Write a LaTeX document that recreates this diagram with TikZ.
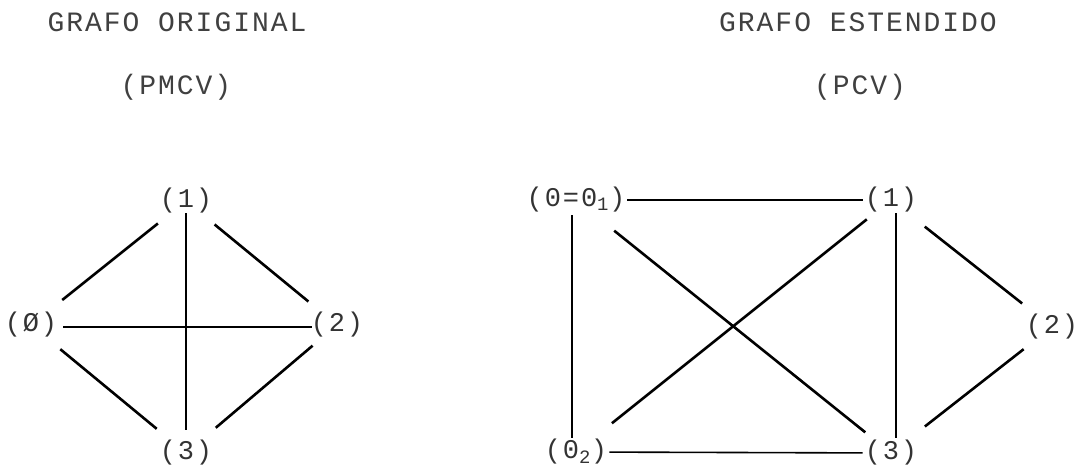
\documentclass[tikz,border=0pt]{standalone}
\usepackage{fontspec}
\newfontfamily\matrixfont[LetterSpace=7]{Liberation Mono}
\begin{document}
\begin{tikzpicture}[x=1pt,y=-1pt,
  lbl/.style={font=\matrixfont\fontsize{27}{29}\selectfont, text=black!80, inner sep=2pt},
  ttl/.style={font=\matrixfont\fontsize{28}{30}\selectfont, text=black!75, inner sep=0pt},
  diag/.style={line width=2.6pt, black},
  straight/.style={line width=1.6pt, black}]
\useasboundingbox (0,0) rectangle (1088,471);
% titles
\node[ttl] (t1) at (177,22) {GRAFO ORIGINAL};
\node[ttl] (t1b) at (176,87) {(PMCV)};
\node[ttl] (t2) at (858,22) {GRAFO ESTENDIDO};
\node[ttl] (t2b) at (860,87) {(PCV)};
% left graph
\node[lbl] (n1) at (186,201) {(1)};
\node[lbl] (n0) at (31,325) {(Ø)};
\node[lbl] (n2) at (337,325) {(2)};
\node[lbl] (n3) at (186,453) {(3)};
\draw[diag, shorten <=40pt, shorten >=36pt] (n0.center) -- (n1.center);
\draw[diag, shorten <=37pt, shorten >=37pt] (n1.center) -- (n2.center);
\draw[diag, shorten <=38pt, shorten >=38pt] (n0.center) -- (n3.center);
\draw[diag, shorten <=32pt, shorten >=39pt] (n2.center) -- (n3.center);
\draw[straight, shorten <=12pt, shorten >=23pt] (n1.center) -- (n3.center);
\draw[straight, shorten <=32pt, shorten >=25pt] ([yshift=-2pt]n0.center) -- ([yshift=-2pt]n2.center);
% right graph
\node[lbl] (r01) at (576,200) {(0=0\textsubscript{1})};
\node[lbl] (r02) at (576,452) {(0\textsubscript{2})};
\node[lbl] (r1) at (891,200) {(1)};
\node[lbl] (r3) at (891,453) {(3)};
\node[lbl] (r2) at (1052,327) {(2)};
\draw[straight] (r01) -- (r1);
\draw[straight] (r02) -- (r3);
\draw[straight, shorten <=15pt, shorten >=14pt] ([xshift=-4pt]r01.center) -- ([xshift=-4pt]r02.center);
\draw[straight, shorten <=13pt, shorten >=15pt] ([xshift=5pt]r1.center) -- ([xshift=5pt]r3.center);
\draw[diag, shorten <=49pt, shorten >=33pt] (r01.center) -- (r3.center);
\draw[diag, shorten <=46pt, shorten >=31pt] (r02.center) -- (r1.center);
\draw[diag, shorten <=43pt, shorten >=38pt] (r1.center) -- (r2.center);
\draw[diag, shorten <=36pt, shorten >=43pt] (r2.center) -- (r3.center);
\end{tikzpicture}
\end{document}
